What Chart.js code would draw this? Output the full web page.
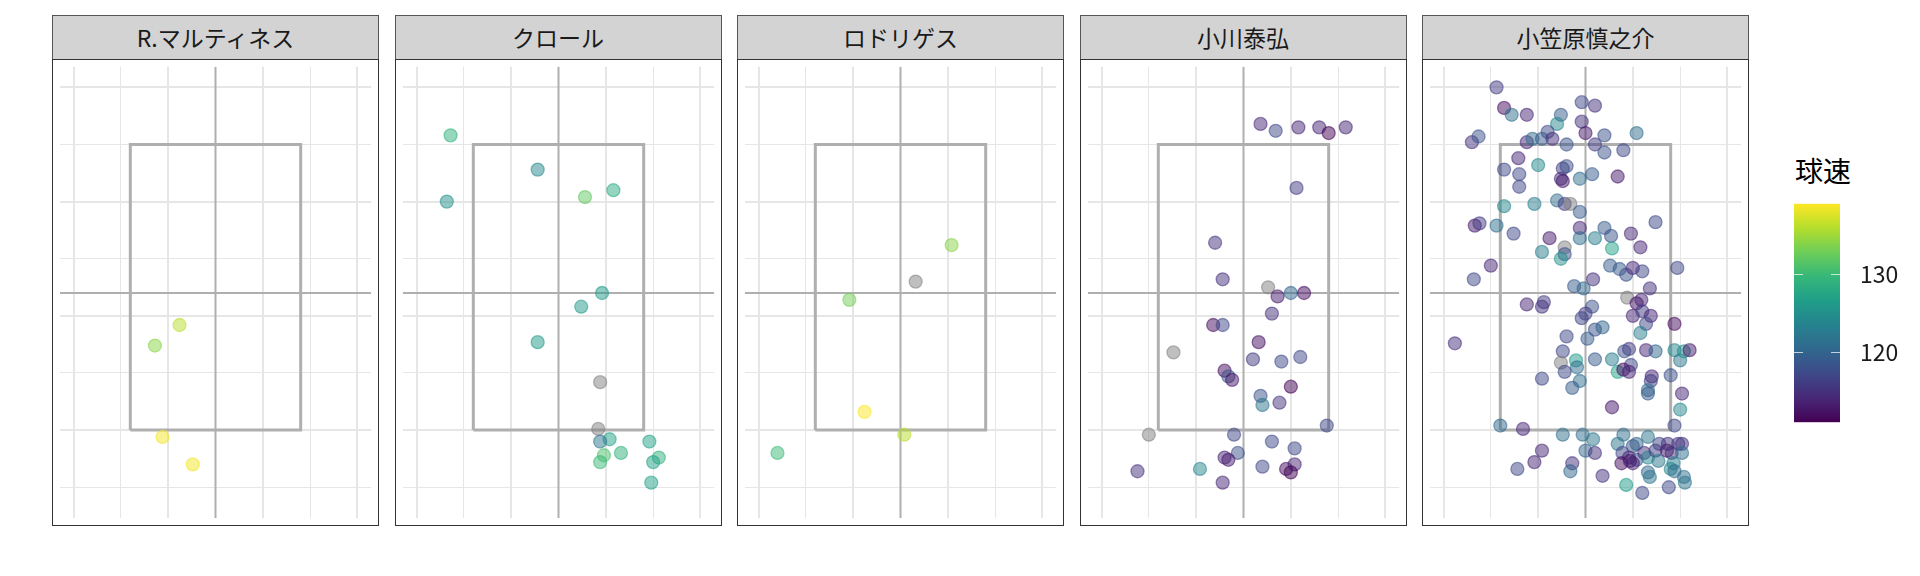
<!DOCTYPE html>
<html>
<head>
<meta charset="utf-8">
<script src="https://cdn.jsdelivr.net/npm/chart.js@4.4.1/dist/chart.umd.min.js"></script>
<style>
  body { margin: 0; background: #fff; width: 1920px; height: 576px; position: relative; overflow: hidden;
         font-family: "Noto Sans CJK JP", "Noto Sans", sans-serif; }
  .strip { position: absolute; top: 15px; height: 45px; width: 327px; box-sizing: border-box; background: #d3d3d3;
           border: 1px solid #555; color: #1a1a1a; font-size: 23px; line-height: 43px; text-align: center; }
  .plot { position: absolute; top: 59px; }
  .frame { position: absolute; top: 59px; width: 327px; height: 467px; box-sizing: border-box;
           border: 1px solid #333; pointer-events: none; }
  #legTitle { position: absolute; left: 1795px; top: 152px; font-size: 28px; line-height: 36px; color: #000; }
  #bar { position: absolute; left: 1794px; top: 178px; }
</style>
</head>
<body>
<div id="legTitle"></div>
<canvas id="bar" width="126" height="270"></canvas>
<script>
//------------------------------data------------------------------
const pitchers = ['R.マルティネス', 'クロール', 'ロドリゲス', '小川泰弘', '小笠原慎之介'];

// [plate x, plate z, speed(km/h)] ; null speed = 不明
const pitchesMartinez = [
  [-0.38, 1.92, 136], [-0.64, 1.74, 134], [-0.56, 0.94, 138.5], [-0.24, 0.70, 138.5]
];
const pitchesKrol = [
  [-1.14, 3.58, 129], [-0.22, 3.28, 124], [-1.18, 3.00, 125], [0.28, 3.04, 132], [0.58, 3.10, 128],
  [0.46, 2.20, 126], [0.24, 2.08, 126], [-0.22, 1.77, 126], [0.44, 1.42, null], [0.42, 1.01, null],
  [0.54, 0.92, 127], [0.44, 0.90, 122], [0.48, 0.78, 131], [0.44, 0.72, 130], [0.66, 0.80, 129],
  [0.96, 0.90, 127], [1.06, 0.76, 129], [1.00, 0.72, 127], [0.98, 0.54, 127]
];
const pitchesRodriguez = [
  [0.54, 2.62, 134], [0.16, 2.30, null], [-0.54, 2.14, 133], [-0.38, 1.16, 139], [0.04, 0.96, 136], [-1.30, 0.80, 130]
];
const pitchesOgawa = [
  [0.18, 3.68, 114], [0.34, 3.62, 117], [0.58, 3.65, 114], [0.80, 3.65, 114], [0.90, 3.60, 111],
  [1.08, 3.65, 114], [0.56, 3.12, 116], [-0.30, 2.64, 115], [-0.22, 2.32, 115], [0.26, 2.25, null],
  [0.36, 2.17, 113], [0.50, 2.20, 120], [0.64, 2.20, 112], [0.30, 2.02, 115], [-0.32, 1.92, 112],
  [-0.22, 1.92, 117], [0.16, 1.77, 112], [-0.74, 1.68, null], [0.10, 1.62, 116], [0.40, 1.60, 117],
  [0.60, 1.64, 117], [-0.20, 1.52, 112], [-0.16, 1.47, 118], [-0.12, 1.44, 113], [0.50, 1.38, 111],
  [0.18, 1.30, 118], [0.20, 1.22, 122], [0.38, 1.24, 115], [0.88, 1.04, 117], [-1.00, 0.96, null],
  [-0.10, 0.96, 117], [0.30, 0.90, 117], [0.54, 0.84, 117], [-0.06, 0.80, 118], [-0.20, 0.76, 114],
  [-0.16, 0.74, 113], [-1.12, 0.64, 115], [-0.46, 0.66, 124], [0.20, 0.68, 117], [0.45, 0.66, 112],
  [0.54, 0.70, 114], [0.50, 0.63, 111], [-0.22, 0.54, 114]
];
const pitchesOgasawara = [
  [-0.94, 4.00, 116], [-0.86, 3.82, 112], [-0.78, 3.76, 121], [-0.62, 3.76, 114], [-0.04, 3.87, 117],
  [0.10, 3.84, 115], [-0.26, 3.76, 119], [-0.30, 3.68, 124], [-0.04, 3.70, 115], [0.00, 3.60, 113],
  [0.20, 3.58, 118], [0.54, 3.60, 121], [-0.40, 3.61, 117], [-1.20, 3.52, 115], [-1.13, 3.57, 118],
  [-0.62, 3.52, 114], [-0.56, 3.55, 121], [-0.46, 3.55, 119], [-0.35, 3.55, 115], [-0.20, 3.50, 118],
  [0.10, 3.50, 116], [0.20, 3.43, 118], [0.40, 3.45, 117], [-0.71, 3.38, 114], [-0.50, 3.32, 124],
  [-0.86, 3.28, 117], [-0.24, 3.29, 116], [-0.20, 3.31, 118], [-0.26, 3.20, 115], [-0.24, 3.18, 113],
  [-0.70, 3.24, 117], [-0.06, 3.20, 121], [0.07, 3.24, 119], [0.34, 3.22, 113], [-0.70, 3.13, 117],
  [-0.86, 2.96, 124], [-0.54, 2.98, 123], [-0.30, 3.01, 121], [-0.22, 2.98, 116], [-0.16, 2.98, null],
  [-0.06, 2.91, 119], [-1.17, 2.79, 113], [-1.12, 2.81, 116], [-0.94, 2.79, 121], [-0.76, 2.72, 117],
  [-0.38, 2.68, 113], [-0.06, 2.77, 114], [-0.06, 2.68, 121], [0.10, 2.68, 123], [0.20, 2.77, 119],
  [0.27, 2.70, 118], [0.48, 2.72, 114], [0.74, 2.82, 117], [0.58, 2.60, 114], [0.28, 2.59, 127],
  [-0.22, 2.60, null], [-0.22, 2.54, 118], [-0.46, 2.56, 123], [-0.26, 2.50, 125], [-1.00, 2.44, 114],
  [-1.18, 2.32, 117], [0.26, 2.44, 119], [0.36, 2.41, 119], [0.43, 2.36, 118], [0.50, 2.42, 114],
  [0.60, 2.39, 117], [0.97, 2.42, 117], [0.08, 2.32, 115], [-0.12, 2.26, 119], [-0.02, 2.24, 120],
  [0.68, 2.24, 115], [0.44, 2.16, null], [0.59, 2.14, 114], [0.54, 2.11, 113], [-0.62, 2.10, 114],
  [-0.44, 2.12, 116], [-0.46, 2.08, 115], [0.07, 2.08, 118], [0.00, 2.02, 116], [-0.04, 1.98, 117],
  [0.50, 2.00, 114], [0.60, 2.04, 116], [0.69, 2.00, 114], [0.64, 1.93, 117], [0.94, 1.93, 112],
  [0.10, 1.88, 118], [0.18, 1.90, 120], [0.58, 1.85, 123], [-0.20, 1.82, 117], [0.02, 1.80, 119],
  [-1.38, 1.76, 115], [-0.24, 1.69, 117], [0.41, 1.69, 118], [0.46, 1.71, 116], [0.64, 1.70, 114],
  [0.74, 1.69, 120], [0.94, 1.70, 124], [1.00, 1.61, 122], [1.04, 1.69, 125], [1.10, 1.70, 113],
  [-0.26, 1.59, null], [-0.10, 1.61, 126], [-0.09, 1.55, 121], [0.10, 1.62, 119], [0.28, 1.62, 123],
  [0.48, 1.57, 117], [0.34, 1.51, 127], [0.40, 1.53, 112], [0.46, 1.51, 114], [-0.22, 1.51, 117],
  [-0.06, 1.43, 121], [-0.14, 1.37, 119], [-0.46, 1.45, 117], [0.70, 1.47, 114], [0.69, 1.43, 116],
  [0.90, 1.48, 118], [0.66, 1.35, 121], [0.66, 1.32, 119], [1.02, 1.32, 114], [0.28, 1.20, 113],
  [1.00, 1.18, 124], [-0.90, 1.04, 120], [-0.66, 1.01, 114], [0.94, 1.04, 117], [-0.24, 0.96, 121],
  [-0.03, 0.96, 121], [0.08, 0.92, 122], [0.40, 0.96, 121], [0.66, 0.94, 122], [0.34, 0.88, 122],
  [0.50, 0.86, 118], [0.54, 0.88, 120], [0.78, 0.88, 117], [0.87, 0.88, 115], [0.98, 0.88, 116],
  [1.02, 0.88, 115], [0.00, 0.82, 120], [0.10, 0.80, 115], [-0.46, 0.82, 114], [-0.54, 0.72, 114],
  [-0.72, 0.66, 117], [-0.14, 0.71, 115], [-0.16, 0.64, 120], [0.18, 0.60, 115], [0.39, 0.80, 117],
  [0.46, 0.76, 114], [0.54, 0.74, 118], [0.62, 0.80, 115], [0.66, 0.76, 124], [0.74, 0.82, 116],
  [0.77, 0.73, 122], [0.86, 0.82, 113], [0.91, 0.80, 115], [1.02, 0.80, 121], [0.38, 0.71, 112],
  [0.50, 0.71, 114], [0.93, 0.71, 123], [0.90, 0.66, 124], [0.94, 0.64, 121], [0.66, 0.63, 120],
  [0.68, 0.59, 122], [1.04, 0.59, 121], [1.05, 0.54, 122], [0.43, 0.52, 126], [0.60, 0.45, 117],
  [0.88, 0.50, 117], [0.47, 0.73, 113]
];
const allPitches = [pitchesMartinez, pitchesKrol, pitchesRodriguez, pitchesOgawa, pitchesOgasawara];

// strike zone and guide lines
const zoneX = [-0.9, 0.9];
const zoneY = [1.0, 3.5];
const guideX = 0;
const guideY = 2.2;

// axis limits and grid breaks (labels hidden)
const xLimits = [-1.645, 1.645];
const yLimits = [0.229, 4.18];
const xBreaks = [-1.5, -1, -0.5, 0, 0.5, 1, 1.5];
const xMajor = [-1.5, -0.5, 0.5, 1.5];
const yBreaks = [0.5, 1, 1.5, 2, 2.5, 3, 3.5, 4];
const yMajor = [1, 2, 3, 4];

const legendTitle = '球速';
const legendTicks = [120, 130];

//------------------------------colour------------------------------
const viridis = ['#440154', '#482878', '#3e4989', '#31688e', '#26828e', '#1f9e89', '#35b779', '#6dcd59', '#b4de2c', '#fde725'];
const speeds = allPitches.flat().map(p => p[2]).filter(s => s !== null);
const speedMin = Math.min(...speeds);
const speedMax = Math.max(...speeds);

function hexRgb(h) {
  return [parseInt(h.slice(1, 3), 16), parseInt(h.slice(3, 5), 16), parseInt(h.slice(5, 7), 16)];
}
function speedColor(s, a) {
  if (s === null) return `rgba(127,127,127,${a})`;
  let t = (s - speedMin) / (speedMax - speedMin);
  t = Math.max(0, Math.min(1, t)) * (viridis.length - 1);
  const i = Math.min(Math.floor(t), viridis.length - 2);
  const f = t - i;
  const c0 = hexRgb(viridis[i]), c1 = hexRgb(viridis[i + 1]);
  const c = c0.map((v, k) => Math.round(v + (c1[k] - v) * f));
  return `rgba(${c[0]},${c[1]},${c[2]},${a})`;
}

//------------------------------panels------------------------------
const panelLeft = 52;
const panelStep = 342.5;
const panelW = 327;
const panelH = 467;
const guideColor = '#afafaf';
const gridColor = '#e6e6e6';

pitchers.forEach((name, i) => {
  const left = panelLeft + i * panelStep;

  const strip = document.createElement('div');
  strip.className = 'strip';
  strip.style.left = left + 'px';
  strip.textContent = name;
  document.body.appendChild(strip);

  const cv = document.createElement('canvas');
  cv.className = 'plot';
  cv.width = panelW;
  cv.height = panelH;
  cv.style.left = left + 'px';
  document.body.appendChild(cv);

  const frame = document.createElement('div');
  frame.className = 'frame';
  frame.style.left = left + 'px';
  document.body.appendChild(frame);

  const pts = allPitches[i];
  new Chart(cv, {
    type: 'scatter',
    data: {
      datasets: [
        {
          data: pts.map(p => ({ x: p[0], y: p[1] })),
          backgroundColor: pts.map(p => speedColor(p[2], 0.5)),
          borderColor: pts.map(p => speedColor(p[2], 0.55)),
          borderWidth: 1.3,
          pointRadius: 6.5,
          order: 0
        },
        {
          type: 'line', showLine: true, pointRadius: 0, borderColor: guideColor, borderWidth: 3, order: 1,
          data: [
            { x: zoneX[0], y: zoneY[0] }, { x: zoneX[1], y: zoneY[0] }, { x: zoneX[1], y: zoneY[1] },
            { x: zoneX[0], y: zoneY[1] }, { x: zoneX[0], y: zoneY[0] }
          ]
        },
        {
          type: 'line', showLine: true, pointRadius: 0, borderColor: guideColor, borderWidth: 2, order: 2,
          data: [{ x: guideX, y: yLimits[0] }, { x: guideX, y: yLimits[1] }]
        },
        {
          type: 'line', showLine: true, pointRadius: 0, borderColor: guideColor, borderWidth: 2, order: 3,
          data: [{ x: xLimits[0], y: guideY }, { x: xLimits[1], y: guideY }]
        }
      ]
    },
    options: {
      responsive: false,
      animation: false,
      events: [],
      layout: { padding: 0 },
      plugins: { legend: { display: false }, tooltip: { enabled: false } },
      scales: {
        x: {
          type: 'linear', min: xLimits[0], max: xLimits[1],
          afterBuildTicks: s => { s.ticks = xBreaks.map(v => ({ value: v })); },
          ticks: { display: false },
          grid: { drawTicks: false, color: gridColor, lineWidth: c => xMajor.includes(c.tick.value) ? 2 : 1 },
          border: { display: false }
        },
        y: {
          type: 'linear', min: yLimits[0], max: yLimits[1],
          afterBuildTicks: s => { s.ticks = yBreaks.map(v => ({ value: v })); },
          ticks: { display: false },
          grid: { drawTicks: false, color: gridColor, lineWidth: c => yMajor.includes(c.tick.value) ? 2 : 1 },
          border: { display: false }
        }
      }
    }
  });
});

//------------------------------colour bar------------------------------
const colorbarPlugin = {
  id: 'colorbar',
  beforeDatasetsDraw(chart) {
    const { ctx, chartArea: a, scales: { y } } = chart;
    const g = ctx.createLinearGradient(0, a.bottom, 0, a.top);
    viridis.forEach((c, k) => g.addColorStop(k / (viridis.length - 1), c));
    ctx.save();
    ctx.fillStyle = g;
    ctx.fillRect(a.left, a.top, a.width, a.height);
    ctx.strokeStyle = 'rgba(255,255,255,0.7)';
    ctx.lineWidth = 1;
    legendTicks.forEach(v => {
      const py = Math.round(y.getPixelForValue(v)) + 0.5;
      ctx.beginPath();
      ctx.moveTo(a.left, py); ctx.lineTo(a.left + 9, py);
      ctx.moveTo(a.right - 9, py); ctx.lineTo(a.right, py);
      ctx.stroke();
    });
    ctx.restore();
  }
};

document.getElementById('legTitle').textContent = legendTitle;

new Chart(document.getElementById('bar'), {
  type: 'scatter',
  data: { datasets: [{ data: [] }] },
  options: {
    responsive: false,
    animation: false,
    events: [],
    layout: { padding: { top: 20, bottom: 20, left: 0, right: 0 } },
    plugins: { legend: { display: false }, tooltip: { enabled: false } },
    scales: {
      x: { display: false },
      y: {
        position: 'right', min: speedMin, max: speedMax,
        afterBuildTicks: s => { s.ticks = legendTicks.map(v => ({ value: v })); },
        afterFit: s => { s.width = 80; },
        ticks: { padding: 12, color: '#1a1a1a', font: { size: 23, family: '"Noto Sans CJK JP", "Noto Sans", sans-serif' } },
        grid: { display: false },
        border: { display: false }
      }
    }
  },
  plugins: [colorbarPlugin]
});
</script>
</body>
</html>
